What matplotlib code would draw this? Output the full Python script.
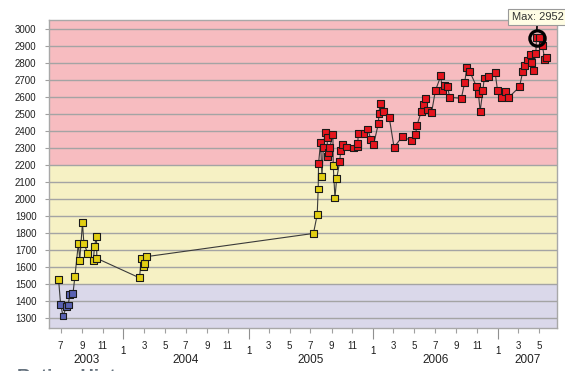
import datetime as dt

import numpy as np
import matplotlib
matplotlib.use("Agg")
import matplotlib.pyplot as plt
import matplotlib.dates as mdates
from matplotlib.ticker import FuncFormatter

plt.rcParams["font.family"] = ["Liberation Sans", "DejaVu Sans"]

# ── data ─────────────────────────────────────────────────────────────────────

DATES = [
    "2003-06-25", "2003-07-01", "2003-07-08", "2003-07-18", "2003-07-23",
    "2003-07-28", "2003-08-06", "2003-08-12", "2003-08-22", "2003-08-26",
    "2003-09-03", "2003-09-07", "2003-09-18", "2003-10-05", "2003-10-08",
    "2003-10-14", "2003-10-15",
    "2004-02-17", "2004-02-22", "2004-02-28", "2004-03-02", "2004-03-08",
    "2005-07-10", "2005-07-21", "2005-07-24", "2005-07-25", "2005-07-31",
    "2005-08-04", "2005-08-08", "2005-08-13", "2005-08-19", "2005-08-21",
    "2005-08-23", "2005-08-27", "2005-09-05", "2005-09-06", "2005-09-11",
    "2005-09-16", "2005-09-25", "2005-09-28", "2005-10-04", "2005-10-16",
    "2005-11-04", "2005-11-15", "2005-11-17", "2005-11-18", "2005-12-05",
    "2005-12-16", "2005-12-25",
    "2006-01-02", "2006-01-16", "2006-01-18", "2006-01-21", "2006-01-31",
    "2006-02-17", "2006-03-03", "2006-03-27", "2006-04-23", "2006-05-05",
    "2006-05-09", "2006-05-22", "2006-05-29", "2006-06-03", "2006-06-09",
    "2006-06-21", "2006-07-02", "2006-07-18", "2006-07-22", "2006-07-29",
    "2006-08-06", "2006-08-13", "2006-09-16", "2006-09-26", "2006-10-02",
    "2006-10-10", "2006-10-30", "2006-11-05", "2006-11-10", "2006-11-18",
    "2006-11-22", "2006-12-04", "2006-12-24", "2006-12-31",
    "2007-01-12", "2007-01-22", "2007-02-02", "2007-03-05", "2007-03-15",
    "2007-03-21", "2007-03-29", "2007-04-07", "2007-04-09", "2007-04-14",
    "2007-04-22", "2007-04-24", "2007-05-03", "2007-05-11", "2007-05-18",
    "2007-05-24",
]

RATINGS = [
    1525, 1380, 1310, 1365, 1375, 1435, 1440, 1545, 1740, 1640,
    1860, 1740, 1680, 1640, 1720, 1780, 1650,
    1535, 1648, 1600, 1620, 1660,
    1797, 1906, 2059, 2210, 2334, 2132, 2305, 2391, 2362, 2250,
    2277, 2305, 2382, 2196, 2006, 2120, 2222, 2287, 2319, 2307,
    2301, 2307, 2326, 2385, 2385, 2413, 2352,
    2320, 2444, 2506, 2565, 2519, 2480, 2305, 2368, 2344, 2382,
    2433, 2519, 2559, 2594, 2525, 2512, 2639, 2727, 2639, 2671,
    2665, 2600, 2594, 2690, 2777, 2755, 2665, 2621, 2519, 2639,
    2714, 2720, 2745, 2639,
    2600, 2635, 2600, 2661, 2753, 2785, 2820, 2854, 2806, 2757,
    2860, 2952, 2950, 2907, 2824, 2836,
]

BAND_EDGES = [1500, 2200]
BAND_COLORS = ["#dad8ea", "#f6f1c4", "#f7bcc0"]
MARKER_COLORS = ["#5a62b2", "#e2cf12", "#e5141d"]
Y_TICKS = list(range(1300, 3001, 100))
YEARS = [2003, 2004, 2005, 2006, 2007]

X_START, X_END = "2003-05-28", "2007-06-23"
Y_MIN, Y_MAX = 1241, 3056

# ── figure ───────────────────────────────────────────────────────────────────

dates = [dt.datetime.strptime(d, "%Y-%m-%d") for d in DATES]
ratings = np.array(RATINGS)
x0 = dt.datetime.strptime(X_START, "%Y-%m-%d")
x1 = dt.datetime.strptime(X_END, "%Y-%m-%d")

fig = plt.figure(figsize=(5.65, 3.71), dpi=100)
fig.patch.set_facecolor("white")
ax = fig.add_axes([49 / 565, 1 - 327.7 / 371, 508 / 565, 307.7 / 371])

# rating bands
lows = [Y_MIN] + BAND_EDGES
highs = BAND_EDGES + [Y_MAX]
for lo, hi, c in zip(lows, highs, BAND_COLORS):
    ax.axhspan(lo, hi, color=c, lw=0, zorder=0)

ax.set_xlim(x0, x1)
ax.set_ylim(Y_MIN, Y_MAX)

ax.set_yticks(Y_TICKS)
ax.yaxis.grid(True, color="#a4a4a4", lw=1.0)
ax.tick_params(axis="y", length=3, width=0.8, color="#a0a0a0",
               pad=6, labelsize=7, labelcolor="#222222")

# x axis: long tick + "1" at January, short ticks at odd months
ax.xaxis.set_major_locator(mdates.YearLocator())
ax.xaxis.set_minor_locator(mdates.MonthLocator(bymonth=[3, 5, 7, 9, 11]))
month_fmt = FuncFormatter(lambda v, pos: str(mdates.num2date(v).month))
ax.xaxis.set_major_formatter(month_fmt)
ax.xaxis.set_minor_formatter(month_fmt)
ax.tick_params(axis="x", which="major", length=8, width=0.8, color="#909090",
               pad=5, labelsize=7, labelcolor="#111111")
ax.tick_params(axis="x", which="minor", length=3.6, width=0.8, color="#a0a0a0",
               pad=6, labelsize=7, labelcolor="#222222")

for yr in YEARS:
    a = max(dt.datetime(yr, 1, 1), x0)
    b = min(dt.datetime(yr + 1, 1, 1), x1)
    mid = a + (b - a) / 2
    ax.text(mid, -0.105, str(yr), transform=ax.get_xaxis_transform(),
            ha="center", va="center", fontsize=8.5, color="#222222",
            clip_on=False)

for s in ax.spines.values():
    s.set_color("#a8a8a8")
    s.set_linewidth(1.0)

# rating line + band coloured markers
ax.plot(dates, ratings, color="#3a3a3a", lw=0.8, zorder=2)
band_idx = np.digitize(ratings, BAND_EDGES)
ax.scatter(dates, ratings, marker="s", s=25,
           c=[MARKER_COLORS[i] for i in band_idx],
           edgecolors="#1a1a1a", linewidths=0.8, zorder=3)

# max marker
i_max = int(np.argmax(ratings))
ax.plot(dates[i_max], ratings[i_max], "o", ms=11, mfc="none", mec="black",
        mew=2.3, zorder=4)
ax.annotate(f"Max: {ratings[i_max]}", xy=(dates[i_max], ratings[i_max]),
            xytext=(-25, 20.5), textcoords="offset pixels",
            ha="left", va="center", fontsize=8, color="#333333",
            bbox=dict(boxstyle="square,pad=0.3", fc="#fffde4", ec="#9a9a9a",
                      lw=0.8),
            arrowprops=dict(arrowstyle="-", color="black", lw=1.2,
                            shrinkA=0, shrinkB=6),
            zorder=5)

fig.text(17 / 565, 1 - 368.5 / 371, "Rating History", ha="left", va="top",
         fontsize=13.5, fontweight="bold", color="#66737f")

fig.savefig("out.png", dpi=100)
